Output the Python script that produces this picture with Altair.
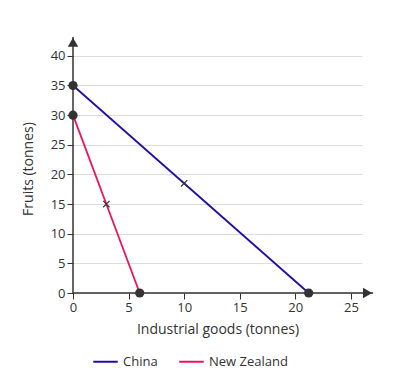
import altair as alt
import pandas as pd

countries = ["China", "China", "New Zealand", "New Zealand"]
goods = [0, 21.2, 0, 6]
fruits = [35, 0, 30, 0]

mid_country = ["China", "New Zealand"]
mid_goods = [10, 3]
mid_fruits = [18.5, 15]

lines_df = pd.DataFrame({"country": countries, "goods": goods, "fruits": fruits})
mid_df = pd.DataFrame({"country": mid_country, "goods": mid_goods, "fruits": mid_fruits})

FONT = "Open Sans"
TXT = "#333333"

xs = alt.Scale(domain=[0, 26], nice=False, zero=True)
ys = alt.Scale(domain=[0, 42], nice=False, zero=True)

XT = "Industrial goods (tonnes)"
YT = "Fruits (tonnes)"

xaxis = alt.Axis(values=[0, 5, 10, 15, 20, 25], grid=False, domain=False,
                 tickColor=TXT, tickSize=6, labelColor=TXT, labelFontSize=13,
                 titleColor=TXT, titleFontSize=14, titleFontWeight="normal",
                 labelFont=FONT, titleFont=FONT, titlePadding=8, labelOverlap=False,
                 labelFlush=False)
yaxis = alt.Axis(values=[0, 5, 10, 15, 20, 25, 30, 35, 40], grid=True,
                 gridColor="#dddddd", domain=False,
                 tickColor=TXT, tickSize=6, labelColor=TXT, labelFontSize=13,
                 titleColor=TXT, titleFontSize=14, titleFontWeight="normal",
                 labelFont=FONT, titleFont=FONT, titlePadding=15, labelOverlap=False,
                 labelFlush=False)


def X(f):
    return alt.X(f, scale=xs, title=XT, axis=xaxis)


def Y(f):
    return alt.Y(f, scale=ys, title=YT, axis=yaxis)


base = alt.Chart(lines_df)

lines = base.mark_line(strokeWidth=1.8).encode(
    x=X("goods:Q"),
    y=Y("fruits:Q"),
    color=alt.Color("country:N",
                    scale=alt.Scale(domain=["China", "New Zealand"], range=["#1f0fa8", "#f0135c"]),
                    legend=alt.Legend(title=None, orient="none", direction="horizontal",
                                      legendX=19, legendY=304, symbolType="stroke",
                                      symbolStrokeWidth=2, symbolSize=600,
                                      labelFontSize=13, labelColor=TXT, labelFont=FONT,
                                      columnPadding=17)),
    detail="country:N",
)

axis_df = pd.DataFrame({"x0": [0, 0], "x1": [27, 0], "y0": [0, 0], "y1": [0, 43.2]})
axes_rules = alt.Chart(axis_df).mark_rule(color=TXT, strokeWidth=1.5).encode(
    x=X("x0:Q"), x2="x1:Q",
    y=Y("y0:Q"), y2="y1:Q",
)

arrow_x = alt.Chart(pd.DataFrame({"x": [26.5], "y": [0]})).mark_point(
    shape="triangle-right", filled=True, color=TXT, size=110, opacity=1
).encode(x=X("x:Q"), y=Y("y:Q"))

arrow_y = alt.Chart(pd.DataFrame({"x": [0], "y": [42.3]})).mark_point(
    shape="triangle-up", filled=True, color=TXT, size=110, opacity=1
).encode(x=X("x:Q"), y=Y("y:Q"))

dots = base.mark_circle(size=85, color=TXT, opacity=1).encode(
    x=X("goods:Q"), y=Y("fruits:Q")
)

crosses = alt.Chart(mid_df).mark_point(
    shape="M-1,-1L1,1M-1,1L1,-1", filled=False, color=TXT, size=40, strokeWidth=1.2, opacity=1
).encode(x=X("goods:Q"), y=Y("fruits:Q"))

chart = alt.layer(lines, axes_rules, arrow_x, arrow_y, dots, crosses).properties(
    width=289, height=249,
    autosize=alt.AutoSizeParams(type="none"),
    padding={"left": 65, "top": 36, "right": 48, "bottom": 83},
).configure(font=FONT).configure_view(stroke=None)

chart.save("out.html", embed_options={"renderer": "svg", "actions": False})
